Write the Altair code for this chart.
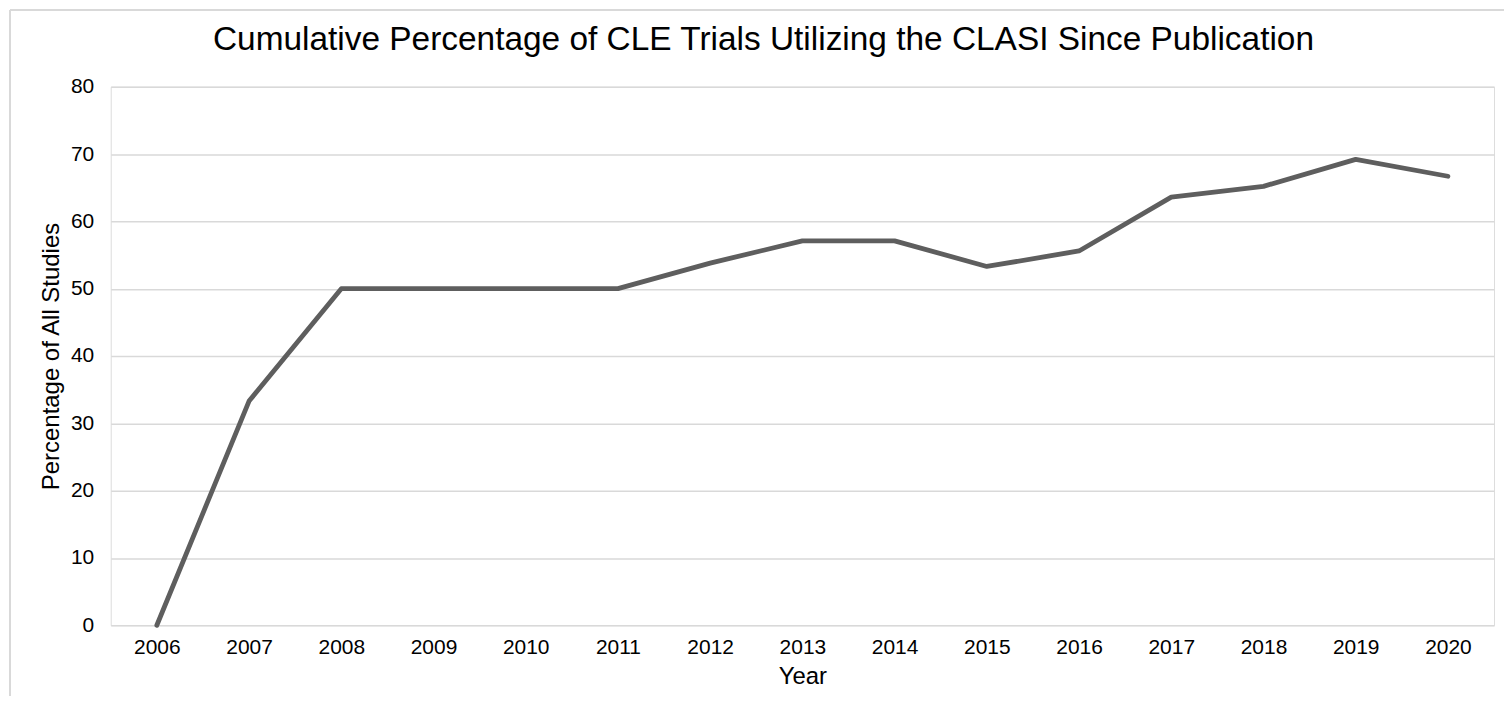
import altair as alt
import pandas as pd

years = ["2006", "2007", "2008", "2009", "2010", "2011", "2012", "2013",
         "2014", "2015", "2016", "2017", "2018", "2019", "2020"]
pct = [0, 33.3, 50, 50, 50, 50, 53.8, 57.1, 57.1, 53.3, 55.6, 63.6, 65.2, 69.2, 66.7]

df = pd.DataFrame({"Year": years, "Pct": pct})

FONT = "Liberation Sans"

line = alt.Chart(df).mark_line(color="#5e5e5e", strokeWidth=4.8, strokeCap="round", strokeJoin="round").encode(
    x=alt.X("Year:O", sort=years, scale=alt.Scale(type="point", padding=0.5),
            axis=alt.Axis(title="Year", labelAngle=0, ticks=False, domain=False, grid=False,
                          labelFontSize=21, labelColor="#000000", labelPadding=11,
                          titleFontSize=24, titleFontWeight="normal", titleColor="#000000",
                          titlePadding=7, labelFont=FONT, titleFont=FONT)),
    y=alt.Y("Pct:Q", scale=alt.Scale(domain=[0, 80], nice=False),
            axis=alt.Axis(title="Percentage of All Studies", values=list(range(0, 81, 10)),
                          ticks=False, domain=False, gridColor="#d9d9d9", gridWidth=1.5,
                          labelFontSize=21, labelColor="#000000", labelPadding=17,
                          titleFontSize=24, titleFontWeight="normal", titleColor="#000000",
                          titlePadding=7, labelFont=FONT, titleFont=FONT)),
)

border_left = alt.Chart(df).mark_rule(color="#d9d9d9", strokeWidth=2).encode(
    x=alt.value(-101), y=alt.value(-77), y2=alt.value(640)
)
border_top = alt.Chart(df).mark_rule(color="#d9d9d9", strokeWidth=2).encode(
    x=alt.value(-101), x2=alt.value(1420), y=alt.value(-77)
)

chart = alt.layer(border_left, border_top, line).properties(
    width=1387, height=540,
    title=alt.TitleParams("Cumulative Percentage of CLE Trials Utilizing the CLASI Since Publication",
                          fontSize=33.5, fontWeight="normal", color="#000000", font=FONT,
                          anchor="middle", offset=-49, dx=-39),
    padding={"left": 103, "top": 78, "right": 10, "bottom": 70},
    autosize=alt.AutoSizeParams(type="none"),
).configure_view(stroke=None).configure(background="white")

chart.save("out.html", embed_options={"renderer": "svg", "actions": False})
